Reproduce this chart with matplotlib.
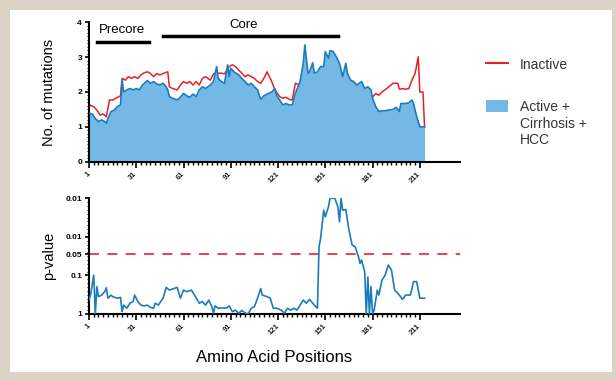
import numpy as np
import matplotlib
matplotlib.use('Agg')
import matplotlib.pyplot as plt
from matplotlib.patches import Rectangle
from matplotlib.lines import Line2D
from matplotlib.ticker import MultipleLocator, FixedLocator

plt.rcParams['font.family'] = ['Liberation Sans', 'DejaVu Sans']

# 数据: 突变数 (Active + Cirrhosis + HCC)
pos_active = [1, 3, 5, 7, 9, 11, 12, 13, 15, 17, 19, 21, 22, 23, 25, 27, 29, 31, 33, 35, 38, 40,
              42, 44, 46, 48, 50, 51, 52, 54, 57, 59, 61, 63, 65, 67, 69, 71, 73, 75, 78, 80, 82,
              83, 85, 87, 89, 90, 91, 93, 96, 98, 100, 102, 104, 106, 108, 110, 112, 115, 117,
              119, 120, 122, 124, 126, 128, 130, 132, 135, 137, 138, 140, 141, 143, 144, 146, 148,
              150, 151, 153, 154, 156, 158, 160, 162, 164, 165, 167, 169, 171, 174, 176, 178, 180,
              181, 183, 185, 187, 189, 191, 194, 196, 198, 199, 202, 204, 206, 207, 208, 209, 211,
              214]
active = [1.39, 1.37, 1.24, 1.15, 1.20, 1.15, 1.10, 1.24, 1.44, 1.48, 1.58, 1.63, 2.34, 2.00, 2.06,
          2.10, 2.06, 2.10, 2.06, 2.20, 2.33, 2.25, 2.30, 2.23, 2.20, 2.25, 2.15, 2.06, 1.87, 1.82,
          1.77, 1.85, 1.96, 1.89, 1.85, 1.94, 1.87, 2.06, 2.15, 2.10, 2.20, 2.30, 2.73, 2.39, 2.30,
          2.25, 2.78, 2.44, 2.68, 2.58, 2.49, 2.39, 2.30, 2.20, 2.25, 2.15, 2.06, 1.79, 1.89, 1.96,
          2.00, 2.10, 1.91, 1.77, 1.63, 1.67, 1.63, 1.63, 1.96, 2.30, 2.82, 3.35, 2.54, 2.58, 2.84,
          2.54, 2.58, 2.73, 2.73, 3.16, 2.97, 3.19, 3.16, 3.01, 2.82, 2.44, 2.82, 2.54, 2.34, 2.30,
          2.20, 2.30, 2.10, 2.15, 2.06, 1.82, 1.58, 1.44, 1.46, 1.46, 1.48, 1.50, 1.56, 1.44, 1.67,
          1.67, 1.69, 1.77, 1.67, 1.48, 1.29, 1.00, 1.00]

# 突变数 (Inactive)
pos_inactive = [1, 4, 6, 8, 10, 12, 14, 16, 18, 21, 22, 24, 26, 28, 30, 32, 34, 36, 38, 40, 42, 44,
                46, 48, 51, 52, 54, 57, 59, 61, 63, 65, 67, 69, 71, 73, 75, 78, 80, 82, 85, 87, 90,
                92, 94, 96, 98, 100, 102, 104, 106, 108, 110, 112, 114, 117, 119, 122, 124, 126, 128,
                130, 132, 135, 140, 150, 160, 170, 180, 181, 183, 185, 187, 190, 194, 197, 198, 200,
                202, 204, 206, 207, 208, 210, 211, 213, 214]
inactive = [1.63, 1.58, 1.48, 1.34, 1.37, 1.29, 1.77, 1.77, 1.82, 1.89, 2.39, 2.34, 2.44, 2.39, 2.44,
            2.39, 2.49, 2.55, 2.58, 2.53, 2.44, 2.53, 2.49, 2.53, 2.58, 2.15, 2.10, 2.06, 2.20, 2.30,
            2.25, 2.30, 2.20, 2.30, 2.20, 2.39, 2.44, 2.34, 2.52, 2.54, 2.54, 2.52, 2.73, 2.78, 2.73,
            2.63, 2.54, 2.44, 2.49, 2.44, 2.39, 2.30, 2.25, 2.39, 2.58, 2.30, 2.06, 1.87, 1.82, 1.85,
            1.79, 1.77, 2.25, 2.20, 2.40, 2.60, 2.60, 2.20, 1.90, 1.85, 1.96, 1.91, 2.00, 2.10, 2.25,
            2.25, 2.08, 2.10, 2.08, 2.10, 2.34, 2.44, 2.53, 3.01, 2.00, 2.00, 1.00]

# p 值 (-log10 尺度)
pos_p = [1, 2, 3, 4, 5, 6, 7, 9, 11, 12, 13, 15, 16, 19, 21, 22, 23, 25, 27, 29, 30, 32, 34, 36, 38,
         40, 42, 43, 45, 48, 50, 52, 55, 57, 59, 61, 63, 66, 68, 71, 73, 75, 77, 79, 80, 81, 83, 85,
         88, 90, 92, 94, 96, 98, 100, 102, 104, 106, 108, 110, 111, 114, 116, 118, 120, 123, 125,
         127, 129, 131, 133, 135, 137, 139, 141, 144, 146, 147, 148, 150, 151, 153, 154, 157, 159,
         160, 161, 162, 164, 166, 168, 170, 172, 173, 174, 176, 177, 178, 179, 180, 181, 182, 184,
         185, 187, 189, 191, 193, 195, 198, 200, 202, 205, 207, 209, 211, 214]
p_score = [0.36, 0.50, 0.75, 1.01, 0.00, 0.71, 0.45, 0.49, 0.58, 0.68, 0.41, 0.49, 0.45, 0.41, 0.43,
           0.06, 0.23, 0.15, 0.28, 0.32, 0.49, 0.32, 0.23, 0.21, 0.23, 0.17, 0.15, 0.28, 0.23, 0.41,
           0.69, 0.62, 0.66, 0.69, 0.41, 0.62, 0.58, 0.62, 0.49, 0.28, 0.32, 0.23, 0.36, 0.19, 0.02,
           0.21, 0.15, 0.16, 0.15, 0.21, 0.06, 0.10, 0.02, 0.09, 0.03, 0.00, 0.15, 0.19, 0.41, 0.66,
           0.49, 0.45, 0.41, 0.15, 0.15, 0.10, 0.02, 0.15, 0.10, 0.15, 0.10, 0.23, 0.36, 0.28, 0.38,
           0.23, 0.15, 1.74, 1.96, 2.69, 2.52, 2.78, 3.00, 3.00, 2.78, 2.39, 3.00, 2.69, 2.71, 2.18,
           1.79, 1.74, 1.49, 1.31, 1.40, 1.10, 0.00, 0.96, 0.00, 0.71, 0.00, 0.10, 0.62, 0.49, 0.88,
           1.01, 1.27, 1.14, 0.62, 0.49, 0.38, 0.49, 0.49, 0.84, 0.84, 0.41, 0.41]

threshold = 1.55
p_ticks = [0, 1, 1.55, 2, 3]
p_labels = ['1', '0.1', '0.05', '0.01', '0.01']
x_ticks = [1, 31, 61, 91, 121, 151, 181, 211]

red = '#e8202a'
blue_line = '#1a7bbd'
blue_fill = '#74b9e6'

fig = plt.figure(figsize=(6.16, 3.8), dpi=100)
fig.patch.set_facecolor('#ddd3c4')
fig.add_artist(Rectangle((10 / 616, 8 / 380), 602 / 616, 362 / 380, transform=fig.transFigure,
                         facecolor='white', edgecolor='none', zorder=0))

ax1 = fig.add_axes([89 / 616, (380 - 161.7) / 380, 371 / 616, 139.4 / 380])
ax2 = fig.add_axes([89 / 616, (380 - 314) / 380, 371 / 616, 115.7 / 380])


def style_x(ax):
    ax.set_xlim(1, 236.5)
    ax.xaxis.set_major_locator(FixedLocator(x_ticks))
    ax.xaxis.set_minor_locator(FixedLocator(np.arange(1, 212, 3)))
    ax.set_xticklabels([str(t) for t in x_ticks], rotation=45, ha='right', va='center',
                       rotation_mode='anchor', fontsize=5.5, fontweight='bold', color='#222222')
    ax.tick_params(axis='x', which='major', length=4, width=1.2, pad=4)
    ax.tick_params(axis='x', which='minor', length=2.2, width=1.0)
    for s in ['top', 'right']:
        ax.spines[s].set_visible(False)
    for s in ['left', 'bottom']:
        ax.spines[s].set_linewidth(1.5)


# 上图: 突变数
ax1.plot(pos_inactive, inactive, color=red, lw=1.1, zorder=1)
ax1.fill_between(pos_active, active, 0, color=blue_fill, lw=0, zorder=2)
ax1.plot(pos_active, active, color=blue_line, lw=1.2, zorder=3)
ax1.set_ylim(0, 4)
ax1.set_yticks([0, 1, 2, 3, 4])
ax1.yaxis.set_minor_locator(MultipleLocator(0.1))
ax1.tick_params(axis='y', which='major', length=3, width=1.2, labelsize=6, pad=2)
ax1.tick_params(axis='y', which='minor', length=1.5, width=0.8)
for lb in ax1.get_yticklabels():
    lb.set_fontweight('bold')
style_x(ax1)
ax1.set_ylabel('No. of mutations', fontsize=10.5)

# 区域标注
ax1.plot([6.3, 39.3], [3.44, 3.44], color='black', lw=2.5, clip_on=False)
ax1.text(22, 3.78, 'Precore', ha='center', va='center', fontsize=9.5)
ax1.plot([48.2, 158.8], [3.62, 3.62], color='black', lw=2.5, clip_on=False)
ax1.text(99, 3.92, 'Core', ha='center', va='center', fontsize=9.5)

# 下图: p 值
ax2.plot(pos_p, p_score, color=blue_line, lw=1.2, zorder=3)
ax2.axhline(threshold, color=red, lw=1.2, ls=(0, (6, 5)), zorder=2)
ax2.set_ylim(0, 3)
ax2.set_yticks(p_ticks)
ax2.set_yticklabels(p_labels, fontsize=6, fontweight='bold')
ax2.yaxis.set_minor_locator(MultipleLocator(0.1))
ax2.tick_params(axis='y', which='major', length=3, width=1.2, pad=2)
ax2.tick_params(axis='y', which='minor', length=1.5, width=0.8)
style_x(ax2)
ax2.set_ylabel('p-value', fontsize=10.5)
ax2.set_xlabel('Amino Acid Positions', fontsize=12, labelpad=10)
ax1.yaxis.set_label_coords(-0.09, 0.5)
ax2.yaxis.set_label_coords(-0.09, 0.5)

# 图例
fig.add_artist(Line2D([486 / 616, 508 / 616], [1 - 62.7 / 380, 1 - 62.7 / 380],
                      transform=fig.transFigure, color=red, lw=1.5))
fig.text(520 / 616, 1 - 65 / 380, 'Inactive', fontsize=10, va='center', color='#333333')
fig.add_artist(Rectangle((486 / 616, 1 - 111.7 / 380), 22 / 616, 11.7 / 380,
                         transform=fig.transFigure, facecolor=blue_fill, edgecolor='none'))
fig.text(520 / 616, 1 - 100 / 380, 'Active +\nCirrhosis +\nHCC', fontsize=10, va='top',
         color='#333333', linespacing=1.25)

plt.savefig('out.png', dpi=100)
